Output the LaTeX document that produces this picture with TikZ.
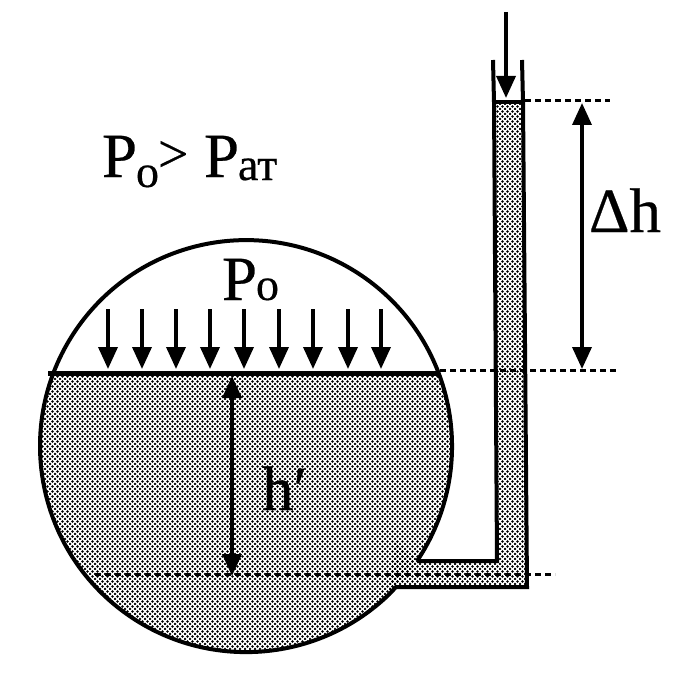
\documentclass[tikz,border=0pt]{standalone}
\usepackage{fontspec}
\setmainfont{Liberation Serif}
\usetikzlibrary{arrows.meta,patterns}
\pgfdeclarepatternformonly{liquiddots}{\pgfqpoint{-1pt}{-1pt}}{\pgfqpoint{6pt}{6pt}}{\pgfqpoint{5pt}{5pt}}{%
  \pgfpathcircle{\pgfqpoint{0pt}{0pt}}{1.4pt}\pgfusepath{fill}
  \pgfpathcircle{\pgfqpoint{2.5pt}{2.5pt}}{1.4pt}\pgfusepath{fill}}
\tikzset{
  wall/.style={line width=4pt,black,line join=miter},
  liquid/.style={pattern=liquiddots,pattern color=black},
  level/.style={line width=3pt,dash pattern=on 6pt off 4pt},
  pressure/.style={line width=3.6pt,-{Triangle[length=22pt,width=19pt]}},
  dimension/.style={line width=3.6pt,{Triangle[length=22pt,width=19pt]}-{Triangle[length=22pt,width=19pt]}},
  label/.style={anchor=base west,inner sep=0pt,outer sep=0pt},
  big/.style={font=\fontsize{63}{70}\selectfont\addfontfeature{FakeBold=0.4}},
  rel/.style={font=\fontsize{54}{60}\selectfont\addfontfeature{FakeBold=0.4}},
  sub/.style={font=\fontsize{46}{52}\selectfont\addfontfeature{FakeBold=0.4}}
}
\begin{document}
\begin{tikzpicture}[x=1pt,y=-1pt]
\useasboundingbox (0,0) rectangle (688,674);
\fill[white] (0,0) rectangle (688,674);
% liquid in the vessel
\begin{scope}
  \clip (0,373) rectangle (688,674);
  \fill[liquid] (246,446) circle[radius=206];
\end{scope}
% liquid in the tube
\fill[liquid] (494,102) -- (523,102) -- (527,587) -- (396,587) -- (389,594) -- (395,540) -- (417,561) -- (497,561) -- cycle;
% vessel outline
\draw[wall] (417,561) arc[start angle=33.9,end angle=-314,radius=206] -- (396,587) -- (527,587) -- (523,102) -- (522,60);
% tube walls
\draw[wall] (493,60) -- (494,102) -- (497,561) -- (417,561);
\draw[wall] (494,102) -- (523,102);
% surface
\draw[line width=5pt] (48,373) -- (440,373);
% level lines
\draw[level] (525,101) -- (610,101);
\draw[level] (440,370.5) -- (618,370.5);
\draw[level] (95,574.5) -- (555,574.5);
% arrows
\coordinate (topA) at (506,12); \coordinate (topB) at (506,98);
\draw[pressure] (topA) -- (topB);
\foreach \x in {108,142,176,210,244,279,313,348,381}{
  \draw[pressure] (\x,309) -- (\x,369);
}
\coordinate (dhA) at (582,103); \coordinate (dhB) at (582,369);
\draw[dimension] (dhA) -- (dhB);
\coordinate (hA) at (232,376); \coordinate (hB) at (232,576);
\draw[dimension] (hA) -- (hB);
% labels
\node[label,big] (p1) at (102,177) {P};
\node[label,sub] (o1) at (136,187) {o};
\node[label,rel] (gt) at (158,172) {>};
\node[label,big] (p2) at (204,177) {P};
\node[label,sub] (at) at (238,180) {ат};
\node[label,big] (p3) at (222,300) {P};
\node[label,sub] (o2) at (256,300) {o};
\node[label,big] (dh) at (589,232) {Δh};
\node[label,big] (hp) at (262,510) {h′};
\end{tikzpicture}
\end{document}
